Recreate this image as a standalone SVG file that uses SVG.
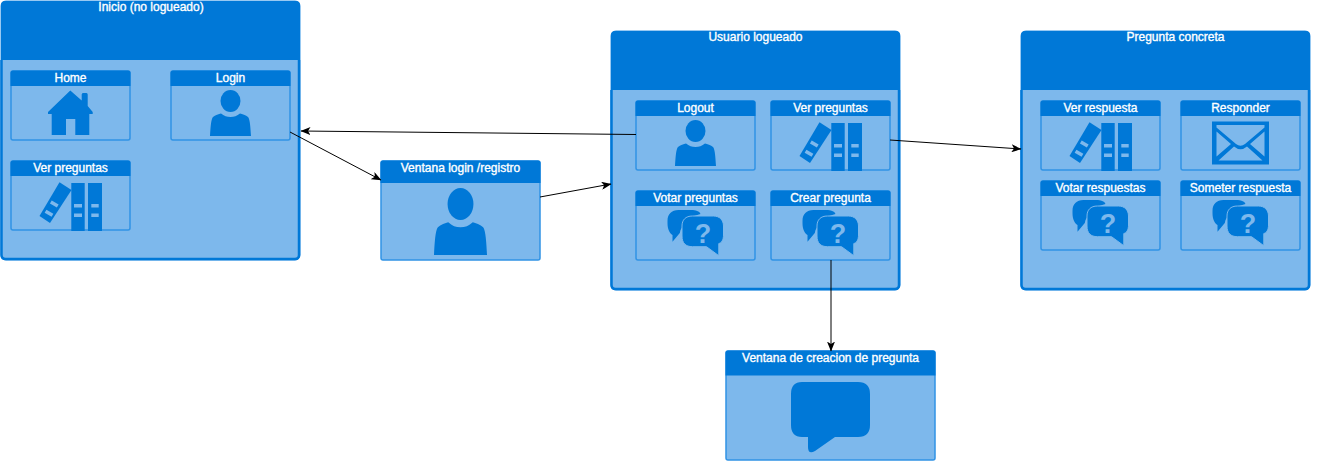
<svg xmlns="http://www.w3.org/2000/svg" width="1331" height="461" viewBox="0 0 1331 461">
<style>
text{font-family:"Liberation Sans",Arial,sans-serif;font-size:12px;fill:#fff;stroke:#fff;stroke-width:.35;text-anchor:middle}
.body{fill:#7DB8EC;stroke:#3193E5;stroke-width:1.5}
.frame{fill:#7DB8EC;stroke:#3193E5;stroke-width:1}
.base{fill:none;stroke:#0078D7;stroke-width:2.5}
.head{fill:#0078D7}
.ico{fill:#0078D7}
.conn{fill:none;stroke:#000;stroke-width:1;marker-end:url(#arrow)}
</style>
<defs>
<marker id="arrow" viewBox="0 0 10 8" refX="9.5" refY="4" markerWidth="10" markerHeight="8" markerUnits="userSpaceOnUse" orient="auto"><path d="M0 0L10 4L0 8L2.5 4Z" fill="#000"/></marker>
<symbol id="user" viewBox="0 0 41 46" overflow="visible"><ellipse class="ico" cx="20.5" cy="11" rx="10" ry="11"/><path class="ico" d="M0 46C.5 38 1 29 3 27C5 25 9 24 11 23.5C14 26 17 27 20.5 27C24 27 27 26 30 23.5C32 24 36 25 38 27C40 29 40.5 38 41 46Z"/></symbol>
<symbol id="books" viewBox="0 0 63 49" overflow="visible"><path class="ico" d="M20 .3L32 8L10.500 41L0 34Z"/><path class="ico" d="M31.800 1H45.200V49H31.800ZM48.500 1H62.500V49H48.500Z"/><path fill="#7DB8EC" d="M34.500 22H42.500V25.500H34.500ZM34.500 31.500H42.500V35H34.500ZM51.800 22H59.200V25.500H51.800ZM51.800 31.500H59.200V35H51.800ZM12.240 18.460L19.140 22.520L17.360 25.540L10.460 21.480ZM6.940 27.760L13.840 31.820L12.060 34.840L5.160 30.780Z"/></symbol>
<symbol id="qa" viewBox="0 0 56 46" overflow="visible"><path class="ico" d="M11 0H24C28 0 32 1 33 4L20 8L13 20L12.300 23L5 31.700V25C2 23 0 19 0 13V11C0 4 4 0 11 0Z"/><path class="ico" stroke="#7DB8EC" stroke-width="1" d="M25 6H46C52 6 56 10 56 16V25C56 30 54 33 51.300 33.500V45.700L39 36.700H25C18 36.700 14.500 33 14.500 26V16C14.500 10 18 6 25 6Z"/><text x="35.500" y="33.300" style="font-size:27px;font-weight:bold;fill:#7DB8EC;stroke:none">?</text></symbol>
</defs>
<g id="inicio"><rect class="frame" x="1" y="1" width="299" height="259" rx="5"/><path class="base" d="M1.500 60V255Q1.500 259 5.500 259H295Q299 259 299 255V60"/><path class="head" d="M5 1H296Q300 1 300 5V60H1V5Q1 1 5 1Z"/><text x="151" y="11">Inicio (no logueado)</text></g>
<g id="home"><rect class="body" x="11" y="71" width="119" height="69" rx="2"/><path class="head" d="M13 70.500H128Q130.500 70.500 130.500 73V86H10.500V73Q10.500 70.500 13 70.500Z"/><text x="70.500" y="82">Home</text><path class="ico" d="M70.300 90.500L81.700 100.500V94.500Q81.700 93 83 93H86.500Q87.700 93 87.700 94.500V106L92.700 112V114H89.300V135H75.300V119H66V135H51.700V114H48V112Z"/></g>
<g id="login"><rect class="body" x="171" y="71" width="119" height="69" rx="2"/><path class="head" d="M173 70.500H288Q290.500 70.500 290.500 73V86H170.500V73Q170.500 70.500 173 70.500Z"/><text x="230.500" y="82">Login</text><use href="#user" x="210" y="90" width="41" height="46"/></g>
<g id="verpreguntas1"><rect class="body" x="11" y="161" width="119" height="69" rx="2"/><path class="head" d="M13 160.500H128Q130.500 160.500 130.500 163V176H10.500V163Q10.500 160.500 13 160.500Z"/><text x="70.500" y="172">Ver preguntas</text><use href="#books" x="39.500" y="182" width="63" height="49"/></g>
<g id="ventanalogin"><rect class="body" x="381" y="161" width="159" height="99" rx="2"/><path class="head" d="M383 160.500H538Q540.500 160.500 540.500 163V183H380.500V163Q380.500 160.500 383 160.500Z"/><text x="460.500" y="172">Ventana login /registro</text><g transform="translate(434 188) scale(1.293 1.457)"><use href="#user" width="41" height="46"/></g></g>
<g id="usuario"><rect class="frame" x="611" y="31" width="289" height="259" rx="5"/><path class="base" d="M611.500 90V285Q611.500 289 615.500 289H895Q899 289 899 285V90"/><path class="head" d="M615 31H896Q900 31 900 35V90H611V35Q611 31 615 31Z"/><text x="755.500" y="41">Usuario logueado</text></g>
<g id="logout"><rect class="body" x="636" y="101" width="119" height="69" rx="2"/><path class="head" d="M638 100.500H753Q755.500 100.500 755.500 103V116H635.500V103Q635.500 100.500 638 100.500Z"/><text x="695.500" y="112">Logout</text><use href="#user" x="675" y="120" width="41" height="46"/></g>
<g id="verpreguntas2"><rect class="body" x="771" y="101" width="119" height="69" rx="2"/><path class="head" d="M773 100.500H888Q890.500 100.500 890.500 103V116H770.500V103Q770.500 100.500 773 100.500Z"/><text x="830.500" y="112">Ver preguntas</text><use href="#books" x="799.500" y="122" width="63" height="49"/></g>
<g id="votarpreguntas"><rect class="body" x="636" y="191" width="119" height="69" rx="2"/><path class="head" d="M638 190.500H753Q755.500 190.500 755.500 193V206H635.500V193Q635.500 190.500 638 190.500Z"/><text x="695.500" y="202">Votar preguntas</text><use href="#qa" x="667.500" y="210" width="56" height="46"/></g>
<g id="crearpregunta"><rect class="body" x="771" y="191" width="119" height="69" rx="2"/><path class="head" d="M773 190.500H888Q890.500 190.500 890.500 193V206H770.500V193Q770.500 190.500 773 190.500Z"/><text x="830.500" y="202">Crear pregunta</text><use href="#qa" x="802.500" y="210" width="56" height="46"/></g>
<g id="preguntaconcreta"><rect class="frame" x="1021" y="31" width="289" height="259" rx="5"/><path class="base" d="M1021.500 90V285Q1021.500 289 1025.500 289H1305Q1309 289 1309 285V90"/><path class="head" d="M1025 31H1306Q1310 31 1310 35V90H1021V35Q1021 31 1025 31Z"/><text x="1175.500" y="41">Pregunta concreta</text></g>
<g id="verrespuesta"><rect class="body" x="1041" y="101" width="119" height="69" rx="2"/><path class="head" d="M1043 100.500H1158Q1160.500 100.500 1160.500 103V116H1040.500V103Q1040.500 100.500 1043 100.500Z"/><text x="1100.500" y="112">Ver respuesta</text><use href="#books" x="1069.500" y="122" width="63" height="49"/></g>
<g id="responder"><rect class="body" x="1181" y="101" width="119" height="69" rx="2"/><path class="head" d="M1183 100.500H1298Q1300.500 100.500 1300.500 103V116H1180.500V103Q1180.500 100.500 1183 100.500Z"/><text x="1240.500" y="112">Responder</text><path class="ico" fill-rule="evenodd" d="M1212 121.500H1269V164.500H1212ZM1216.500 125V127.500L1236 144Q1240.500 147.500 1245 144L1264.500 127.500V125ZM1216.500 131.500V156.500L1231 144ZM1264.500 131.500L1250 144L1264.500 156.500ZM1234 146.500L1218.500 160.500H1262.500L1247 146.500Q1240.500 152 1234 146.500Z"/></g>
<g id="votarrespuestas"><rect class="body" x="1041" y="181" width="119" height="69" rx="2"/><path class="head" d="M1043 180.500H1158Q1160.500 180.500 1160.500 183V196H1040.500V183Q1040.500 180.500 1043 180.500Z"/><text x="1100.500" y="192">Votar respuestas</text><use href="#qa" x="1072.500" y="200" width="56" height="46"/></g>
<g id="someterrespuesta"><rect class="body" x="1181" y="181" width="119" height="69" rx="2"/><path class="head" d="M1183 180.500H1298Q1300.500 180.500 1300.500 183V196H1180.500V183Q1180.500 180.500 1183 180.500Z"/><text x="1240.500" y="192">Someter respuesta</text><use href="#qa" x="1212.500" y="200" width="56" height="46"/></g>
<g id="ventanacreacion"><rect class="body" x="726" y="351" width="209" height="109" rx="2"/><path class="head" d="M728 350.500H933Q935.500 350.500 935.500 353V375.500H725.500V353Q725.500 350.500 728 350.500Z"/><text x="830.500" y="362">Ventana de creacion de pregunta</text><path class="ico" d="M802 382H858Q870 382 870 394V425Q870 437 858 437H835L815 451Q808 455 808 447V437H802Q791 437 791 425V394Q791 382 802 382Z"/></g>
<g id="connectors">
<path class="conn" d="M636 134.500L301 131"/>
<path class="conn" d="M290 132L381 180"/>
<path class="conn" d="M540 197L611 184"/>
<path class="conn" d="M890 140L1021 149"/>
<path class="conn" d="M831 260V351"/>
</g>
</svg>
